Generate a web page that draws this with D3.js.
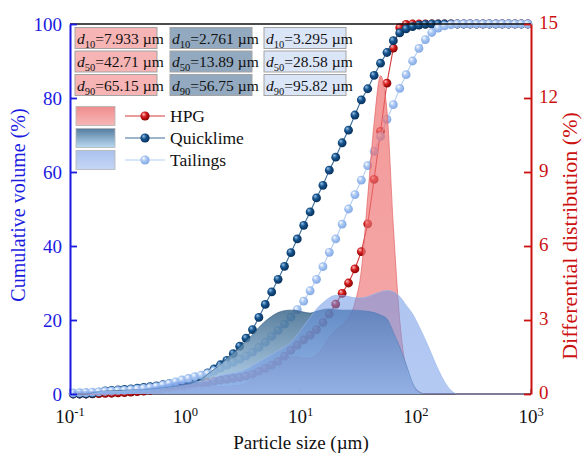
<!DOCTYPE html>
<html>
<head>
<meta charset="utf-8">
<script src="https://cdn.jsdelivr.net/npm/d3@7"></script>
<style>
  body { margin: 0; background: #fff; }
  svg { display: block; font-family: "Liberation Serif", "Times New Roman", serif; }
</style>
</head>
<body>
<svg id="chart" width="584" height="454"></svg>
<script>
// Particle size classes (µm)
const sizes = [
  0.1066, 0.1212, 0.1377, 0.1565, 0.1778, 0.2021, 0.2297, 0.2610, 0.2966, 0.3371,
  0.3831, 0.4354, 0.4948, 0.5623, 0.6391, 0.7263, 0.8254, 0.9380,
  1.066, 1.212, 1.377, 1.565, 1.778, 2.021, 2.297, 2.610, 2.966, 3.371,
  3.831, 4.354, 4.948, 5.623, 6.391, 7.263, 8.254, 9.380,
  10.66, 12.12, 13.77, 15.65, 17.78, 20.21, 22.97, 26.10, 29.66, 33.71,
  38.31, 43.54, 49.48, 56.23, 63.91, 72.63, 82.54, 93.80,
  106.6, 121.2, 137.7, 156.5, 177.8, 202.1, 229.7, 261.0, 296.6, 337.1,
  383.1, 435.4, 494.8, 562.3, 639.1, 726.3, 825.4, 938.0
];

// Cumulative volume (%)
const hpgCum = [
  0, 0, 0, 0.05, 0.1, 0.15, 0.2, 0.3, 0.4, 0.5,
  0.65, 0.8, 1.0, 1.2, 1.4, 1.65, 1.9, 2.15, 2.4, 2.7,
  2.95, 3.15, 3.45, 3.75, 3.95, 4.2, 4.45, 4.8, 5.35, 6.1,
  6.9, 7.8, 8.8, 10.2, 11.8, 13.2, 14.6, 15.9, 17.4, 19.3,
  21.6, 24.3, 27.2, 30.0, 33.8, 38.5, 46.0, 58.0, 71.0, 84.0,
  93.5, 99.0, 99.9, 100, 100, 100, 100, 100, 100, 100,
  100, 100, 100, 100, 100, 100, 100, 100, 100, 100, 100, 100
];
const limeCum = [
  0, 0, 0, 0.1, 0.5, 0.85, 0.95, 1.1, 1.25, 1.4,
  1.6, 1.8, 2.0, 2.2, 2.5, 2.8, 3.1, 3.4, 3.7, 4.0,
  4.6, 5.7, 6.8, 7.9, 9.1, 10.9, 12.9, 15.1, 17.4, 20.7,
  24.2, 27.6, 31.0, 34.5, 38.2, 41.9, 45.6, 49.2, 53.0, 56.4,
  60.5, 64.0, 67.9, 71.3, 75.4, 79.5, 82.5, 86.1, 89.4, 92.3,
  95.5, 97.6, 98.7, 99.3, 99.7, 99.9, 100, 100, 100, 100,
  100, 100, 100, 100, 100, 100, 100, 100, 100, 100, 100, 100
];
const tailCum = [
  0.3, 0.35, 0.4, 0.5, 0.6, 0.7, 0.8, 0.9, 1.0, 1.15,
  1.3, 1.5, 1.7, 2.0, 2.4, 2.8, 3.3, 3.8, 4.2, 4.7,
  5.1, 5.5, 6.2, 7.0, 7.8, 8.6, 9.4, 10.3, 11.3, 12.6,
  14.0, 15.6, 17.2, 18.9, 20.8, 22.8, 25.1, 27.9, 31.0, 34.4,
  38.3, 41.9, 45.9, 50.0, 53.9, 57.8, 61.7, 65.6, 69.6, 74.2,
  78.2, 82.6, 86.3, 90.0, 93.4, 95.8, 97.7, 98.9, 99.5, 99.8,
  100, 100, 100, 100, 100, 100, 100, 100, 100, 100, 100, 100
];

// Differential distribution (%)
const hpgDiff = [
  0, 0, 0, 0, 0, 0, 0, 0, 0, 0.02,
  0.05, 0.07, 0.1, 0.12, 0.15, 0.17, 0.2, 0.22, 0.25, 0.28,
  0.3, 0.3, 0.3, 0.3, 0.3, 0.33, 0.35, 0.45, 0.6, 0.75,
  0.85, 0.95, 1.1, 1.3, 1.5, 1.5, 1.45, 1.45, 1.6, 1.9,
  2.3, 2.6, 2.8, 3.1, 3.7, 5.0, 8.0, 11.0, 12.9, 11.5,
  6.8, 3.0, 1.0, 0.35, 0.1, 0, 0, 0, 0, 0,
  0, 0, 0, 0, 0, 0, 0, 0, 0, 0, 0, 0
];
const limeDiff = [
  0, 0, 0, 0.05, 0.1, 0.12, 0.13, 0.14, 0.15, 0.16,
  0.17, 0.18, 0.2, 0.22, 0.25, 0.28, 0.32, 0.36, 0.4, 0.48,
  0.6, 0.8, 1.0, 1.2, 1.45, 1.66, 1.9, 2.15, 2.4, 2.7,
  2.95, 3.15, 3.3, 3.38, 3.4, 3.38, 3.32, 3.28, 3.35, 3.42,
  3.45, 3.42, 3.4, 3.4, 3.4, 3.38, 3.35, 3.3, 3.2, 3.05,
  2.5, 1.9, 1.2, 0.45, 0.08, 0, 0, 0, 0, 0,
  0, 0, 0, 0, 0, 0, 0, 0, 0, 0, 0, 0
];
const tailDiff = [
  0.1, 0.1, 0.1, 0.1, 0.1, 0.1, 0.1, 0.1, 0.12, 0.14,
  0.17, 0.2, 0.25, 0.3, 0.35, 0.42, 0.48, 0.5, 0.5, 0.5,
  0.5, 0.55, 0.65, 0.75, 0.8, 0.85, 0.9, 1.0, 1.15, 1.3,
  1.45, 1.6, 1.75, 1.9, 2.1, 2.4, 2.75, 3.1, 3.45, 3.7,
  3.9, 4.0, 4.0, 3.95, 3.9, 3.9, 3.95, 4.05, 4.15, 4.2,
  4.15, 3.95, 3.6, 3.25, 2.75, 2.2, 1.6, 1.0, 0.5, 0.15,
  0, 0, 0, 0, 0, 0, 0, 0, 0, 0, 0, 0
];

// Axis ticks
const leftTicks = [0, 20, 40, 60, 80, 100];
const rightTicks = [0, 3, 6, 9, 12, 15];
const xTickExponents = [-1, 0, 1, 2, 3];

// Legend and characteristic sizes
const seriesNames = ["HPG", "Quicklime", "Tailings"];
const d10Labels = ["7.933", "2.761", "3.295"];
const d50Labels = ["42.71", "13.89", "28.58"];
const d90Labels = ["65.15", "56.75", "95.82"];

const plot = { left: 70, right: 531, top: 24, bottom: 394 };
const svg = d3.select("#chart");
const defs = svg.append("defs");

const x = d3.scaleLog().domain([0.1, 1000]).range([plot.left, plot.right]);
const yL = d3.scaleLinear().domain([0, 100]).range([plot.bottom, plot.top]);
const yR = d3.scaleLinear().domain([0, 15]).range([plot.bottom, plot.top]);

const BLUE_AXIS = "#1a1ae0";
const RED_AXIS = "#cc1111";

const style = {
  HPG:       { line: "#d43a3a", hi: "#ffc4c4", mid: "#d41c1c", edge: "#7c0000",
               fillTop: "#ee6a6a", fillBot: "#f08080", fillOp: 0.68, stroke: "#e05a5a",
               box: "#f6b4b4" },
  Quicklime: { line: "#3d6f9c", hi: "#9cc4ea", mid: "#16558f", edge: "#062a52",
               fillTop: "#2f5e84", fillBot: "#a9cdec", fillOp: 0.8, stroke: "#2f5a80",
               box: "#93a9bf" },
  Tailings:  { line: "#b4cdf3", hi: "#ffffff", mid: "#a8c6f3", edge: "#7fa5e2",
               fillTop: "#6d96e6", fillBot: "#769ee8", fillOp: 0.55, stroke: "#9ab7ec",
               box: "#dbe5f8" }
};

// gradients
seriesNames.forEach((name, i) => {
  const s = style[name];
  const rg = defs.append("radialGradient").attr("id", "ball" + i)
    .attr("cx", 0.45).attr("cy", 0.45).attr("r", 0.6).attr("fx", 0.33).attr("fy", 0.28);
  rg.append("stop").attr("offset", "0%").attr("stop-color", s.hi);
  rg.append("stop").attr("offset", "45%").attr("stop-color", s.mid);
  rg.append("stop").attr("offset", "100%").attr("stop-color", s.edge);
  const lg = defs.append("linearGradient").attr("id", "fill" + i)
    .attr("x1", 0).attr("y1", 0).attr("x2", 0).attr("y2", 1);
  lg.append("stop").attr("offset", "0%").attr("stop-color", s.fillTop);
  lg.append("stop").attr("offset", "100%").attr("stop-color", s.fillBot);
});
// legend swatch gradients
const swatchStops = [["#ef8c8c", "#f7b8b8"], ["#557d9f", "#b9d9f1"], ["#a9c1ee", "#c6d7f6"]];
swatchStops.forEach((st, i) => {
  const lg = defs.append("linearGradient").attr("id", "sw" + i)
    .attr("x1", 0).attr("y1", 0).attr("x2", 0).attr("y2", 1);
  lg.append("stop").attr("offset", "0%").attr("stop-color", st[0]);
  lg.append("stop").attr("offset", "100%").attr("stop-color", st[1]);
});

// bottom axis line (under the fills)
svg.append("line").attr("x1", plot.left).attr("x2", plot.right)
  .attr("y1", plot.bottom).attr("y2", plot.bottom)
  .attr("stroke", "#3a3f4f").attr("stroke-width", 1.6);
xTickExponents.forEach(e => {
  svg.append("line").attr("x1", x(Math.pow(10, e))).attr("x2", x(Math.pow(10, e)))
    .attr("y1", plot.bottom).attr("y2", plot.bottom - 5)
    .attr("stroke", "#3a3f4f").attr("stroke-width", 1.2);
});

// cumulative curves with ball markers (HPG first, Tailings on top)
const cumSets = [hpgCum, limeCum, tailCum];
const lineGen = d3.line().x(d => x(d.s)).y(d => yL(d.v));
seriesNames.forEach((name, si) => {
  const data = sizes.map((s, j) => ({ s, v: cumSets[si][j] }));
  const st = style[name];
  svg.append("path").datum(data).attr("d", lineGen)
    .attr("fill", "none").attr("stroke", st.line).attr("stroke-width", 1.1);
  svg.append("g").selectAll("circle").data(data).join("circle")
    .attr("cx", d => x(d.s)).attr("cy", d => yL(d.v)).attr("r", 4.4)
    .attr("fill", `url(#ball${si})`);
});

// differential distributions (filled, drawn over the cumulative curves)
const diffSets = [hpgDiff, limeDiff, tailDiff];
const areaGen = d3.area().x(d => x(d.s)).y0(yR(0)).y1(d => yR(d.v)).curve(d3.curveMonotoneX);
const topGen = d3.line().x(d => x(d.s)).y(d => yR(d.v)).curve(d3.curveMonotoneX);
seriesNames.forEach((name, si) => {
  const data = sizes.map((s, j) => ({ s, v: diffSets[si][j] }));
  const st = style[name];
  svg.append("path").datum(data).attr("d", areaGen)
    .attr("fill", `url(#fill${si})`).attr("fill-opacity", st.fillOp);
  svg.append("path").datum(data).attr("d", topGen)
    .attr("fill", "none").attr("stroke", st.stroke).attr("stroke-width", 0.8)
    .attr("stroke-opacity", 0.8);
});

// frame: top line, left (blue) and right (red) axes
svg.append("line").attr("x1", plot.left).attr("x2", plot.right)
  .attr("y1", plot.top).attr("y2", plot.top).attr("stroke", "#111").attr("stroke-width", 1.6);

const axL = svg.append("g").attr("transform", `translate(${plot.left},0)`)
  .call(d3.axisLeft(yL).tickValues(leftTicks).tickSize(-7).tickPadding(8).tickSizeOuter(0));
axL.select(".domain").attr("stroke", BLUE_AXIS).attr("stroke-width", 2);
axL.selectAll(".tick line").attr("stroke", BLUE_AXIS).attr("stroke-width", 1.8);
axL.selectAll(".tick text").attr("fill", BLUE_AXIS).style("font-size", "19px")
  .style("font-family", "'Liberation Serif', serif");

const axR = svg.append("g").attr("transform", `translate(${plot.right},0)`)
  .call(d3.axisRight(yR).tickValues(rightTicks).tickSize(-7).tickPadding(8).tickSizeOuter(0));
axR.select(".domain").attr("stroke", RED_AXIS).attr("stroke-width", 2);
axR.selectAll(".tick line").attr("stroke", RED_AXIS).attr("stroke-width", 1.8);
axR.selectAll(".tick text").attr("fill", RED_AXIS).style("font-size", "19px")
  .style("font-family", "'Liberation Serif', serif").attr("dy", "0.25em");

// x tick labels: 10^n
xTickExponents.forEach(e => {
  const t = svg.append("text").attr("x", x(Math.pow(10, e))).attr("y", 423)
    .attr("text-anchor", "middle").attr("fill", "#111").style("font-size", "19px");
  t.append("tspan").text("10");
  t.append("tspan").attr("dy", -7).style("font-size", "12.5px").text(e < 0 ? "-" + Math.abs(e) : String(e));
});

// axis titles
svg.append("text").attr("x", 301).attr("y", 449)
  .attr("text-anchor", "middle").attr("fill", "#111").style("font-size", "19px")
  .text("Particle size (µm)");
svg.append("text").attr("transform", "translate(25,205) rotate(-90)")
  .attr("text-anchor", "middle").attr("fill", BLUE_AXIS).style("font-size", "20px")
  .text("Cumulative volume (%)");
svg.append("text").attr("transform", "translate(577,236) rotate(-90)")
  .attr("text-anchor", "middle").attr("fill", RED_AXIS).style("font-size", "22px")
  .text("Differential distribution (%)");

// characteristic size boxes
const boxCols = [75, 170, 264];
const boxRows = [27.5, 51, 74.5];
const rowSets = [["10", d10Labels], ["50", d50Labels], ["90", d90Labels]];
seriesNames.forEach((name, ci) => {
  rowSets.forEach(([sub, labels], ri) => {
    const bx = boxCols[ci], by = boxRows[ri];
    svg.append("rect").attr("x", bx).attr("y", by).attr("width", 82).attr("height", 21)
      .attr("fill", style[name].box).attr("stroke", "#a3a3a3").attr("stroke-width", 1);
    const t = svg.append("text").attr("x", bx + 2).attr("y", by + 16)
      .attr("fill", "#111").style("font-size", "15.5px");
    t.append("tspan").style("font-style", "italic").text("d");
    t.append("tspan").attr("dy", 4).style("font-size", "10.5px").text(sub);
    t.append("tspan").attr("dy", -4).text("=" + labels[ci] + " µm");
  });
});

// legend
const legY = [116, 138, 160];
seriesNames.forEach((name, i) => {
  const st = style[name];
  svg.append("rect").attr("x", 76).attr("y", legY[i] - 9.5).attr("width", 39).attr("height", 19)
    .attr("fill", `url(#sw${i})`).attr("stroke", "#b3b3b3").attr("stroke-width", 0.8);
  svg.append("line").attr("x1", 125).attr("x2", 165).attr("y1", legY[i]).attr("y2", legY[i])
    .attr("stroke", st.line).attr("stroke-width", 1.1);
  svg.append("circle").attr("cx", 145).attr("cy", legY[i]).attr("r", 4.6)
    .attr("fill", `url(#ball${i})`);
  svg.append("text").attr("x", 170).attr("y", legY[i] + 6).attr("fill", "#111")
    .style("font-size", "17.5px").text(name);
});
</script>
</body>
</html>
